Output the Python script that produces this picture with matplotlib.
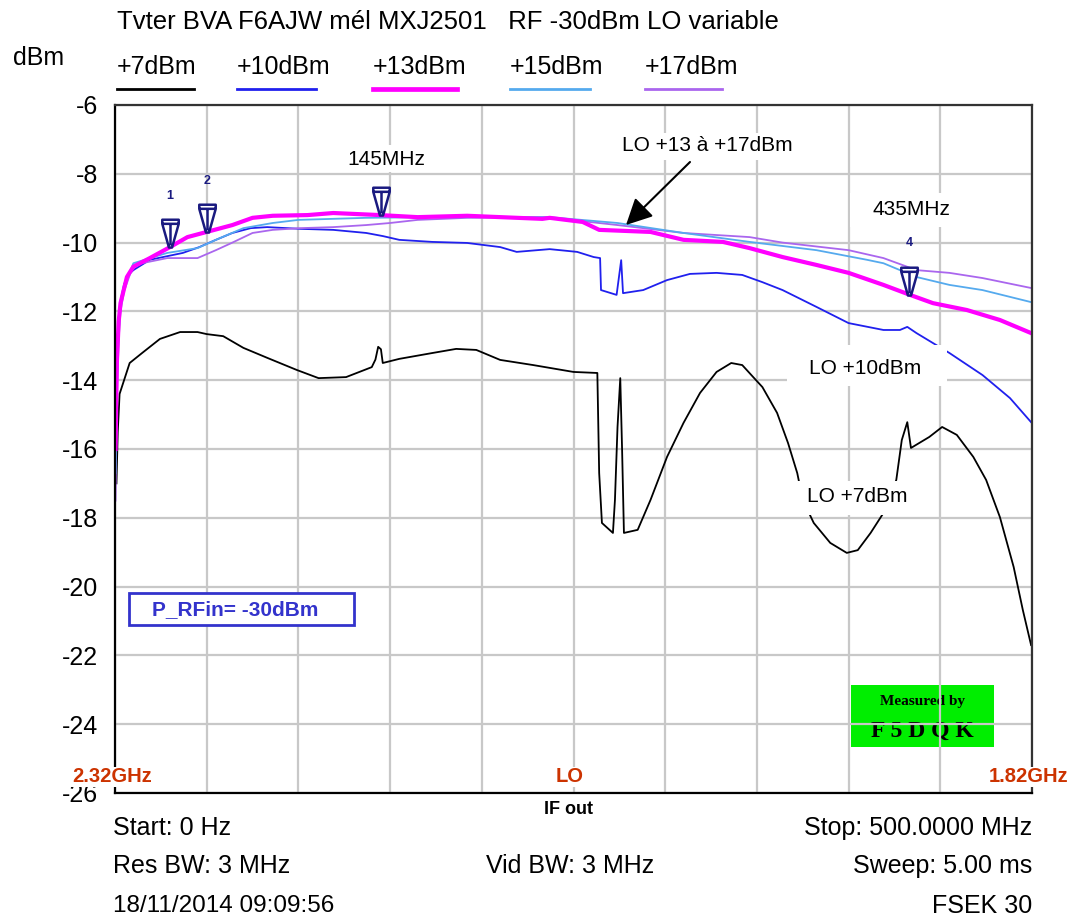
import matplotlib
matplotlib.use("Agg")
import matplotlib.pyplot as plt
import numpy as np
from matplotlib.path import Path
from matplotlib.patches import Rectangle

# Spectrum analyser traces (IF out, 0..500 MHz), one per LO drive level
f_lo7 = [0.8, 1.5, 2.5, 8, 15, 24.5, 35.5, 45, 50, 59, 70, 83, 99, 111, 126, 140, 142, 143.5,
         145, 146, 155, 173, 186, 197, 210, 228, 250, 263, 264, 265.5, 271.5, 272.6, 274,
         275.5, 276.5, 277.5, 285, 292, 301, 310, 319, 328, 336, 342, 348, 353, 361, 367,
         372, 375, 381, 390, 399, 405, 412, 419, 426, 429, 432, 434, 444, 451, 459, 468,
         475, 482.5, 490, 495, 499.5]
p_lo7 = [-17.0, -15.5, -14.4, -13.5, -13.2, -12.8, -12.6, -12.6, -12.66, -12.72, -13.06,
         -13.35, -13.7, -13.94, -13.91, -13.62, -13.4, -13.03, -13.1, -13.5, -13.38, -13.21,
         -13.09, -13.12, -13.41, -13.56, -13.76, -13.79, -16.7, -18.15, -18.44, -17.48,
         -15.36, -13.94, -16.03, -18.44, -18.35, -17.48, -16.23, -15.24, -14.37, -13.76,
         -13.5, -13.56, -13.91, -14.2, -14.95, -15.83, -16.7, -17.48, -18.15, -18.73,
         -19.02, -18.94, -18.44, -17.86, -16.9, -15.74, -15.22, -15.97, -15.65, -15.36,
         -15.59, -16.23, -16.9, -17.98, -19.43, -20.68, -21.7]

f_lo10 = [0.3, 1, 2, 3, 5, 8, 10, 19, 37, 46, 55, 64, 74, 83, 101, 119, 137, 146, 155, 173,
          192, 210, 219, 237, 252, 261, 264.5, 265, 273.5, 276, 277, 288, 301, 313.5, 328,
          342, 353, 364, 382.5, 400, 419, 428, 432, 437, 455, 473, 488, 499.5]
p_lo10 = [-16.3, -14.0, -12.4, -11.7, -11.2, -10.9, -10.8, -10.5, -10.3, -10.13, -9.92,
          -9.72, -9.58, -9.55, -9.6, -9.63, -9.72, -9.81, -9.92, -9.98, -10.01, -10.13,
          -10.27, -10.19, -10.27, -10.42, -10.45, -11.38, -11.52, -10.51, -11.47, -11.38,
          -11.09, -10.91, -10.88, -10.94, -11.15, -11.38, -11.87, -12.34, -12.54, -12.54,
          -12.45, -12.63, -13.21, -13.85, -14.52, -15.22]

f_lo13 = [0.3, 1, 2, 3, 6.5, 10, 19, 30, 39.5, 50, 64, 75, 86, 105, 119, 144.5, 165, 192,
          233, 237, 255, 264, 292, 310, 331.5, 346, 364, 382.5, 400, 419, 433.5, 446,
          464.5, 482.5, 499.5]
p_lo13 = [-16.0, -13.5, -12.3, -11.76, -11.0, -10.7, -10.45, -10.13, -9.84, -9.69, -9.49,
          -9.28, -9.22, -9.2, -9.14, -9.2, -9.26, -9.22, -9.31, -9.28, -9.4, -9.63, -9.69,
          -9.92, -9.98, -10.16, -10.42, -10.65, -10.88, -11.23, -11.52, -11.76, -11.96,
          -12.25, -12.63]

f_lo15 = [0.3, 1, 2, 3, 5, 10, 28.5, 45, 55, 70, 86, 100, 137, 173, 237, 274, 310, 346,
          382.5, 410, 419, 437, 455, 473, 499.5]
p_lo15 = [-16.7, -14.2, -12.6, -11.9, -11.3, -10.6, -10.3, -10.16, -9.92, -9.58, -9.43,
          -9.34, -9.28, -9.26, -9.26, -9.43, -9.72, -9.98, -10.22, -10.5, -10.6, -11.0,
          -11.23, -11.38, -11.73]

f_lo17 = [0.3, 1, 2, 3, 5, 10, 28.5, 45, 55, 64, 75, 86, 101, 119, 137, 150, 165, 192, 235,
          274, 310, 346, 364, 400, 419, 437, 455, 473, 499.5]
p_lo17 = [-17.5, -14.5, -12.8, -12.0, -11.4, -10.65, -10.45, -10.45, -10.22, -10.0, -9.72,
          -9.63, -9.58, -9.55, -9.49, -9.43, -9.34, -9.28, -9.26, -9.49, -9.72, -9.84,
          -10.0, -10.22, -10.45, -10.8, -10.88, -11.03, -11.32]

legend_labels = ["+7dBm", "+10dBm", "+13dBm", "+15dBm", "+17dBm"]
marker_freqs = [30, 50, 145, 433]
marker_names = ["1", "2", "", "4"]
y_ticks = list(range(-26, -5, 2))

W, H = 1070, 919
X0, X1, Y0, Y1 = 115, 1032, 105, 793   # plot frame in pixels

plt.rcParams["font.family"] = ["Liberation Sans", "DejaVu Sans"]

fig = plt.figure(figsize=(W / 100, H / 100), dpi=100)
ax = fig.add_axes([X0 / W, 1 - Y1 / H, (X1 - X0) / W, (Y1 - Y0) / H])
ax.set_xlim(0, 500)
ax.set_ylim(-26, -6)


def to_data(x, y):
    """pixel position -> (MHz, dBm)"""
    return (x - X0) / (X1 - X0) * 500, -6 - (y - Y0) / (Y1 - Y0) * 20


def fpos(x, y):
    return x / W, 1 - y / H


# grid and frame
ax.set_xticks(np.arange(0, 501, 50))
ax.set_yticks(y_ticks)
ax.set_xticklabels([])
ax.set_yticklabels([str(t) for t in y_ticks], fontsize=18)
ax.tick_params(length=0, pad=12)
ax.set_axisbelow("line")
ax.grid(True, color="#c8c8c8", lw=1.6)
for side in ("left", "bottom"):
    ax.spines[side].set_color("black")
    ax.spines[side].set_linewidth(1.6)
for side in ("top", "right"):
    ax.spines[side].set_color("#333333")
    ax.spines[side].set_linewidth(1.6)

colors = ["black", "#2020ee", "#ff00ff", "#55aaee", "#aa66ee"]
widths = [1.3, 1.3, 3.0, 1.3, 1.3]
traces = [(f_lo7, p_lo7), (f_lo10, p_lo10), (f_lo17, p_lo17), (f_lo15, p_lo15), (f_lo13, p_lo13)]
order = [0, 1, 4, 3, 2]
for tr, idx in zip(traces, order):
    ax.plot(tr[0], tr[1], color=colors[idx], lw=widths[idx], zorder=2)

# markers sitting on the +13dBm trace
mverts = [(-8, 27), (8, 27), (8, 23), (1.5, 0), (-1.5, 0), (-8, 23), (-8, 27),
          (-8, 23), (8, 23), (0, 23), (0, 2)]
mcodes = [Path.MOVETO] + [Path.LINETO] * 5 + [Path.CLOSEPOLY,
          Path.MOVETO, Path.LINETO, Path.MOVETO, Path.LINETO]
mpath = Path(mverts, mcodes)
m_db = np.interp(marker_freqs, f_lo13, p_lo13)
ax.plot(marker_freqs, m_db, ls="none", marker=mpath, ms=40, mfc="white",
        mec="#1a1a80", mew=1.8, zorder=6)
for fm, dm, name in zip(marker_freqs, m_db, marker_names):
    if name:
        ax.annotate(name, (fm, dm), xytext=(0, 37), textcoords="offset points",
                    ha="center", va="center", fontsize=9, fontweight="bold",
                    color="#1a1a80", zorder=6)

# white label boxes
labels = [
    ("145MHz", (323, 145, 450, 172), (386, 160)),
    ("435MHz", (850, 193, 957, 227), (911, 210)),
    ("LO +10dBm", (787, 345, 947, 386), (865, 369)),
    ("LO +7dBm", (795, 481, 912, 515), (857, 497)),
    ("LO +13 à +17dBm", (600, 133, 815, 160), (707, 146)),
]
for txt, (bx0, by0, bx1, by1), (tx, ty) in labels:
    xa, ya = to_data(bx0, by1)
    xb, yb = to_data(bx1, by0)
    ax.add_patch(Rectangle((xa, ya), xb - xa, yb - ya, facecolor="white",
                           edgecolor="none", zorder=3))
    ax.text(*to_data(tx, ty), txt, ha="center", va="center", fontsize=15, zorder=4)

ax.annotate("", xy=to_data(626, 225), xytext=to_data(690, 162),
            arrowprops=dict(arrowstyle="-|>,head_length=0.8,head_width=0.4",
                            color="black", lw=1.5, mutation_scale=20,
                            shrinkA=0, shrinkB=0), zorder=5)

# input level box
xa, ya = to_data(129, 625)
xb, yb = to_data(354, 593)
ax.add_patch(Rectangle((xa, ya), xb - xa, yb - ya, facecolor="white",
                       edgecolor="#3333cc", lw=2, zorder=3))
ax.text(*to_data(152, 610), "P_RFin= -30dBm", ha="left", va="center", fontsize=15,
        fontweight="bold", color="#3333cc", zorder=4)

# "Measured by" badge
xa, ya = to_data(851, 747)
xb, yb = to_data(994, 685)
ax.add_patch(Rectangle((xa, ya), xb - xa, yb - ya, facecolor="#00ee00",
                       edgecolor="none", zorder=1))
ax.text(*to_data(922, 701), "Measured by", ha="center", va="center", fontsize=11,
        family="Liberation Serif", fontweight="bold", zorder=1.2)
ax.text(*to_data(922, 731), "F 5 D Q K", ha="center", va="center", fontsize=17,
        family="Liberation Serif", fontweight="bold", zorder=1.2)

# header
fig.text(*fpos(117, 22), "Tvter BVA F6AJW mél MXJ2501   RF -30dBm LO variable",
         fontsize=18.5, va="center", ha="left")
fig.text(*fpos(13, 58), "dBm", fontsize=18, va="center", ha="left")
leg_x = [(117, 194), (237, 316), (373, 457), (510, 590), (645, 722)]
for (lx0, lx1), lab, c, lw in zip(leg_x, legend_labels, colors, widths):
    fig.text(*fpos(lx0, 67), lab, fontsize=18, va="center", ha="left")
    fig.add_artist(plt.Line2D([lx0 / W, lx1 / W], [1 - 89 / H] * 2, color=c,
                              lw=max(lw, 1.6) + 0.4, transform=fig.transFigure))

# frequency plan labels
red = "#cc3300"
for x, txt, ha in [(72, "2.32GHz", "left"), (570, "LO", "center"), (1068, "1.82GHz", "right")]:
    fig.text(*fpos(x, 777), txt, color=red, fontsize=14.5, fontweight="bold",
             ha=ha, va="center",
             bbox=dict(facecolor="white", edgecolor="none", pad=0.5))
fig.text(*fpos(569, 810), "IF out", fontsize=13, fontweight="bold", ha="center", va="center")

# instrument footer
fig.text(*fpos(113, 828), "Start: 0 Hz", fontsize=18, va="center", ha="left")
fig.text(*fpos(1032, 828), "Stop: 500.0000 MHz", fontsize=18, va="center", ha="right")
fig.text(*fpos(113, 866), "Res BW: 3 MHz", fontsize=18, va="center", ha="left")
fig.text(*fpos(570, 866), "Vid BW: 3 MHz", fontsize=18, va="center", ha="center")
fig.text(*fpos(1032, 866), "Sweep: 5.00 ms", fontsize=18, va="center", ha="right")
fig.text(*fpos(113, 906), "18/11/2014 09:09:56", fontsize=17.5, va="center", ha="left")
fig.text(*fpos(1032, 906), "FSEK 30", fontsize=18, va="center", ha="right")

fig.savefig("out.png", dpi=100)
